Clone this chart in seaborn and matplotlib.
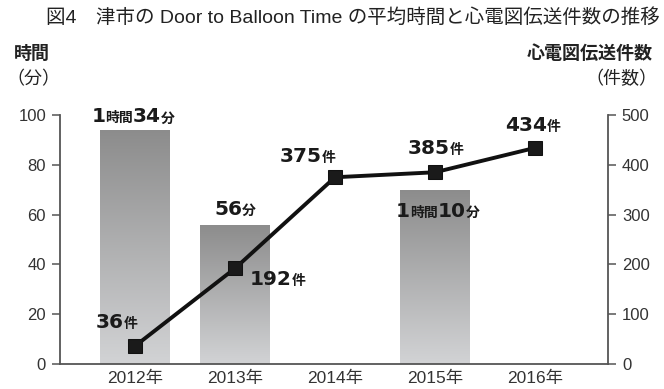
import numpy as np
import pandas as pd
import matplotlib
matplotlib.use("Agg")
import matplotlib.pyplot as plt
import seaborn as sns
from matplotlib.offsetbox import TextArea, HPacker, AnnotationBbox

# ---- data ----
years = ["2012年", "2013年", "2014年", "2015年", "2016年"]
dtb_minutes = [94, 56, np.nan, 70, np.nan]          # Door to Balloon time (min)
ecg_counts = [36, 192, 375, 385, 434]               # ECG transmissions (件)
time_labels = [[("1", 14.5), ("時間", 10), ("34", 14.5), ("分", 10)],
               [("56", 14.5), ("分", 10)],
               None,
               [("1", 14.5), ("時間", 10), ("10", 14.5), ("分", 10)],
               None]
count_unit = "件"
left_ticks = [0, 20, 40, 60, 80, 100]
right_ticks = [0, 100, 200, 300, 400, 500]

sns.set_style("white")
LAT = ["Liberation Sans", "Noto Sans CJK JP"]
BOLDF = ["DejaVu Sans", "Noto Sans CJK JP"]
plt.rcParams["font.family"] = LAT

fig = plt.figure(figsize=(6.64, 3.89), dpi=100)
ax = fig.add_axes([60 / 664, (389 - 364) / 389, (608 - 60) / 664, (364 - 115) / 389])

df = pd.DataFrame({"year": years, "minutes": dtb_minutes})
sns.barplot(data=df, x="year", y="minutes", order=years, ax=ax, width=0.7,
            color="#aaaaaa", edgecolor="none", saturation=1)

# gradient fill for each bar
grad = np.linspace(0, 1, 256).reshape(-1, 1)
cmap = matplotlib.colors.LinearSegmentedColormap.from_list("g", ["#d2d3d5", "#8c8c8c"])
for p in list(ax.patches):
    h = p.get_height()
    if not np.isfinite(h) or h <= 0:
        continue
    x0 = p.get_x()
    w = p.get_width()
    im = ax.imshow(grad, extent=(x0, x0 + w, 0, h), origin="lower", cmap=cmap,
                   aspect="auto", zorder=p.get_zorder())
    im.set_clip_path(p)
    p.set_facecolor("none")

ax.set_xlim(-0.75, 4.73)
ax.set_ylim(0, 100)
ax.set_yticks(left_ticks)
ax.set_xlabel("")
ax.set_ylabel("")
ax.tick_params(axis="y", length=6, width=1.1, color="#555555", labelsize=12,
               labelcolor="#333333", pad=4, left=True)
ax.tick_params(axis="x", length=0, labelsize=12.5, labelcolor="#333333", pad=5)
for s in ["top", "right"]:
    ax.spines[s].set_visible(False)
for s in ["left", "bottom"]:
    ax.spines[s].set_color("#555555")
    ax.spines[s].set_linewidth(1.3)

ax2 = ax.twinx()
sns.lineplot(x=np.arange(len(years)), y=ecg_counts, ax=ax2, color="#111111",
             linewidth=2.8, marker="s", markersize=10.5, markeredgecolor="#111111",
             markerfacecolor="#1a1a1a", zorder=5)
ax2.set_ylim(0, 500)
ax2.set_yticks(right_ticks)
ax2.set_ylabel("")
ax2.tick_params(axis="y", length=6, width=1.1, color="#555555", labelsize=12,
                labelcolor="#333333", pad=4, right=True)
for s in ["top", "left", "bottom"]:
    ax2.spines[s].set_visible(False)
ax2.spines["right"].set_color("#555555")
ax2.spines["right"].set_linewidth(1.3)
ax2.set_xlim(-0.75, 4.73)


def label(axis, pieces, xy, off):
    children = []
    for txt, size in pieces:
        children.append(TextArea(txt, textprops=dict(fontsize=size, fontweight="bold",
                                                      family=BOLDF, color="#1a1a1a")))
    pk = HPacker(children=children, align="baseline", pad=0, sep=0)
    ab = AnnotationBbox(pk, xy, xybox=off, xycoords="data", boxcoords="offset pixels",
                        frameon=False, box_alignment=(0.5, 0.5), zorder=10)
    axis.add_artist(ab)


time_offsets = [(-2, 13), (0, 15), None, (3, -22), None]
for i, pieces in enumerate(time_labels):
    if pieces is None:
        continue
    label(ax2, pieces, (i, dtb_minutes[i] * 5), time_offsets[i])

count_offsets = [(-18, 24), (43, -11), (-27, 21), (1, 24), (-2, 22)]
for i, v in enumerate(ecg_counts):
    label(ax2, [(str(v), 14.5), (count_unit, 10)], (i, v), count_offsets[i])

# titles / axis headers
CJK = ["Noto Sans CJK JP", "DejaVu Sans"]
fig.text(660 / 664, 1 - 18 / 389, "図4　津市の Door to Balloon Time の平均時間と心電図伝送件数の推移",
         ha="right", va="center", fontsize=14, family=LAT, color="#222222")
fig.text(14 / 664, 1 - 53 / 389, "時間", ha="left", va="center", fontsize=13,
         family=CJK, color="#222222", fontweight="bold")
fig.text(6 / 664, 1 - 79 / 389, "（分）", ha="left", va="center", fontsize=13,
         family=CJK, color="#222222")
fig.text(653 / 664, 1 - 53 / 389, "心電図伝送件数", ha="right", va="center", fontsize=13,
         family=CJK, color="#222222", fontweight="bold")
fig.text(657 / 664, 1 - 79 / 389, "（件数）", ha="right", va="center", fontsize=13,
         family=CJK, color="#222222")

fig.savefig("out.png", dpi=100)
